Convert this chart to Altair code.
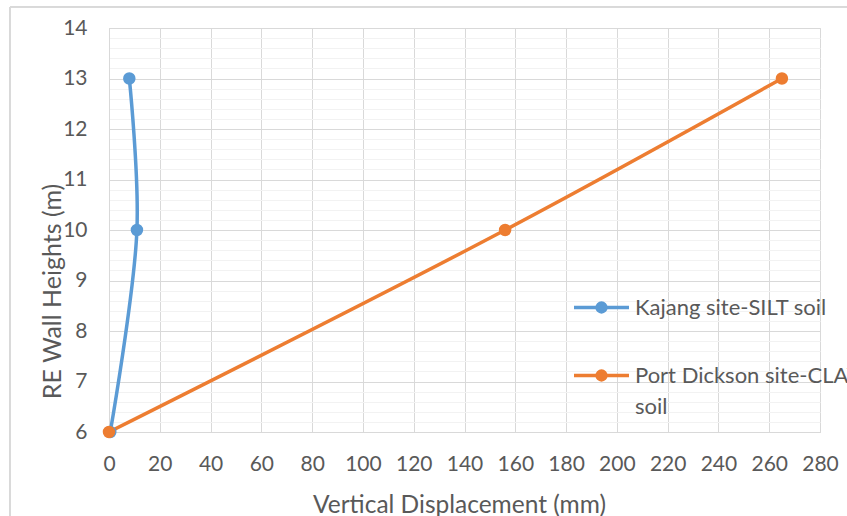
import altair as alt
import pandas as pd

# Data
heights = [6, 10, 13]
kajang_disp = [0.5, 11, 8]
port_disp = [0, 156, 265]
series_names = ["Kajang site-SILT soil", "Port Dickson site-CLAY soil"]
colors = ["#5B9BD5", "#ED7D31"]
x_ticks = list(range(0, 281, 20))
y_minor = [round(6 + 0.2 * i, 1) for i in range(41)]

rows = []
for h, d in zip(heights, kajang_disp):
    rows.append({"series": series_names[0], "height": h, "disp": d})
for h, d in zip(heights, port_disp):
    rows.append({"series": series_names[1], "height": h, "disp": d})
df = pd.DataFrame(rows)

FONT = "Lato"
TXT = "#595959"
GRID = "#d9d9d9"
MINOR = "#f2f2f2"

cscale = alt.Scale(domain=series_names, range=colors)

legend = alt.Legend(
    title=None,
    orient="none",
    legendX=463,
    legendY=250,
    symbolType="M-1,0L1,0M-0.16,0A0.16,0.16,0,1,1,0.16,0A0.16,0.16,0,1,1,-0.16,0Z",
    symbolSize=3025,
    symbolStrokeWidth=3.5,
    labelFont=FONT,
    labelFontSize=22,
    labelColor=TXT,
    labelOffset=4,
    labelLimit=600,
    rowPadding=27,
    padding=0,
    labelExpr="datum.label == 'Port Dickson site-CLAY soil' ? ['Port Dickson site-CLAY', 'soil'] : datum.label",
)

xenc = alt.X(
    "disp:Q",
    scale=alt.Scale(domain=[0, 280], nice=False),
    axis=alt.Axis(
        values=x_ticks,
        title="Vertical Displacement (mm)",
        titleFont=FONT,
        titleFontSize=24.5,
        titleFontWeight="normal",
        titleColor=TXT,
        titleX=350,
        titleY=80,
        titleBaseline="alphabetic",
        titleAlign="center",
        labelFont=FONT,
        labelFontSize=21,
        labelColor=TXT,
        labelPadding=21,
        ticks=False,
        domainColor=GRID,
        gridColor=GRID,
        labelFlush=False,
    ),
)
yenc = alt.Y(
    "height:Q",
    scale=alt.Scale(domain=[6, 14], nice=False, zero=False),
    axis=alt.Axis(
        values=y_minor,
        format=".0f",
        title="RE Wall Heights (m)",
        titleFont=FONT,
        titleFontSize=25,
        titleFontWeight="normal",
        titleColor=TXT,
        titleX=-57,
        titleY=263,
        titleAngle=270,
        titleAlign="center",
        titleBaseline="middle",
        labelFont=FONT,
        labelFontSize=21,
        labelColor=TXT,
        labelPadding=22,
        labelExpr="abs(datum.value - round(datum.value)) < 0.001 ? datum.label : ''",
        ticks=False,
        domainColor=GRID,
        gridColor={"condition": {"test": "abs(datum.value - round(datum.value)) < 0.001", "value": GRID}, "value": MINOR},
        labelFlush=False,
        labelOverlap=False,
    ),
)

frame = alt.Chart(df).mark_rect(fill=None, stroke="#d9d9d9", strokeWidth=1).encode(
    x=alt.value(-99), x2=alt.value(900), y=alt.value(-21), y2=alt.value(600)
)

lines = alt.Chart(df).mark_line(strokeWidth=3.5, interpolate="catmull-rom").encode(
    x=xenc,
    y=yenc,
    stroke=alt.Stroke("series:N", scale=cscale, legend=legend),
    order=alt.Order("height:Q"),
    detail="series:N",
)

points = alt.Chart(df).mark_circle(size=110, opacity=1).encode(
    x=xenc,
    y=yenc,
    fill=alt.Fill("series:N", scale=cscale, legend=legend),
    stroke=alt.Stroke("series:N", scale=cscale, legend=legend),
)

chart = alt.layer(frame, lines, points).properties(
    width=711,
    height=404,
    autosize=alt.AutoSizeParams(type="none"),
    padding={"left": 109, "top": 28, "right": 27, "bottom": 84},
    background="white",
).configure_view(stroke=None).configure(
    style={"guide-label": {"lineHeight": 31}}
)

chart.save("out.html", embed_options={"renderer": "svg", "actions": False})
